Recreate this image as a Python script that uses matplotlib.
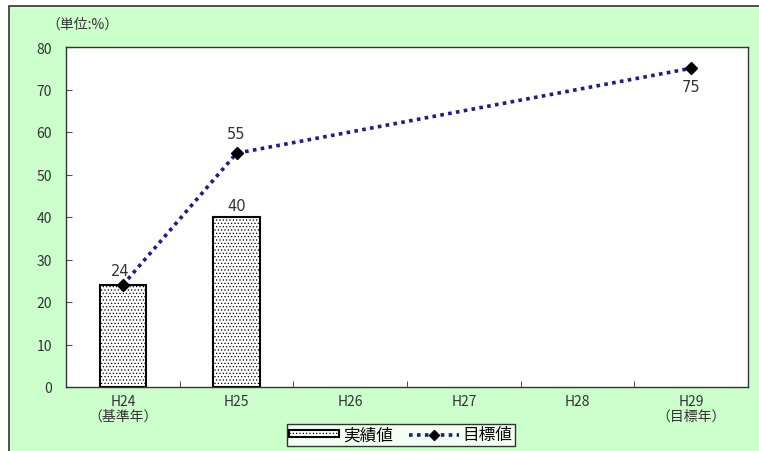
import matplotlib.pyplot as plt
from matplotlib.patches import Rectangle
import numpy as np

plt.rcParams['font.family'] = ['Noto Sans CJK JP', 'DejaVu Sans']
plt.rcParams['hatch.color'] = '#b0b0b0'
plt.rcParams['hatch.linewidth'] = 0.5

# 年度と値
years = ['H24\n（基準年）', 'H25', 'H26', 'H27', 'H28', 'H29\n（目標年）']
actual_idx = [0, 1]
actual = [24, 40]
target_idx = [0, 1, 5]
target = [24, 55, 75]

fig = plt.figure(figsize=(7.59, 4.52), dpi=100)
fig.patch.set_facecolor('white')
# 背景の緑枠（上と左だけ線が見える）
fig.patches.append(Rectangle((9 / 759, -0.1), 1.2, 1.1 - 7 / 452, transform=fig.transFigure,
                             facecolor='#CCFFCC', edgecolor='#333333', linewidth=1.2,
                             zorder=-10))

ax = fig.add_axes([66 / 759, 1 - 388 / 452, (748 - 66) / 759, (388 - 48) / 452])
ax.set_facecolor('white')

x = np.arange(len(years))
bars = ax.bar(actual_idx, actual, width=0.41, facecolor='white', edgecolor='black',
              linewidth=1.5, hatch='.....', label='実績値', zorder=2)
line, = ax.plot(target_idx, target, linestyle=(0, (1, 1.2)), color='#1c1c8c', linewidth=2.6,
                marker='D', markersize=6.5, markerfacecolor='black', markeredgecolor='black',
                label='目標値', zorder=3)

txt = dict(fontsize=10.5, color='#333333', ha='center', family=['DejaVu Sans'])
ax.text(-0.02, 24 + 1.6, '24', va='bottom', **txt)
ax.text(1, 40 + 1.0, '40', va='bottom', **txt)
ax.text(1, 55 + 2.8, '55', va='bottom', **txt)
ax.text(5, 75 - 2.6, '75', va='top', **txt)

ax.set_xlim(-0.5, len(years) - 0.5)
ax.set_ylim(0, 80)
ax.set_yticks(range(0, 81, 10))
ax.set_xticks(x)
ax.set_xticklabels(years, fontsize=10, color='#333333', linespacing=1.05)
ax.set_xticks(np.arange(0.5, len(years) - 1, 1), minor=True)
ax.tick_params(axis='x', which='major', length=0, pad=5)
ax.tick_params(axis='x', which='minor', direction='in', length=4, color='#333333')
ax.tick_params(axis='y', direction='in', length=4, labelsize=10, labelcolor='#333333',
               color='#555555', pad=10)
for s in ax.spines.values():
    s.set_color('#333333')
    s.set_linewidth(1.0)

fig.text(46 / 759, 1 - 25 / 452, '（単位:%）', fontsize=10, color='#333333', va='center')

leg = fig.legend(handles=[bars, line], loc='center', bbox_to_anchor=(401 / 759, 1 - 436 / 452),
                 ncol=2, frameon=True, fancybox=False, fontsize=12, handlelength=3.0,
                 handleheight=0.3, columnspacing=1.0, handletextpad=0.2, borderpad=0.15,
                 markerscale=0.8)
leg.get_frame().set_edgecolor('black')
leg.get_frame().set_linewidth(1.0)

fig.savefig('out.png', dpi=100, facecolor=fig.get_facecolor())
